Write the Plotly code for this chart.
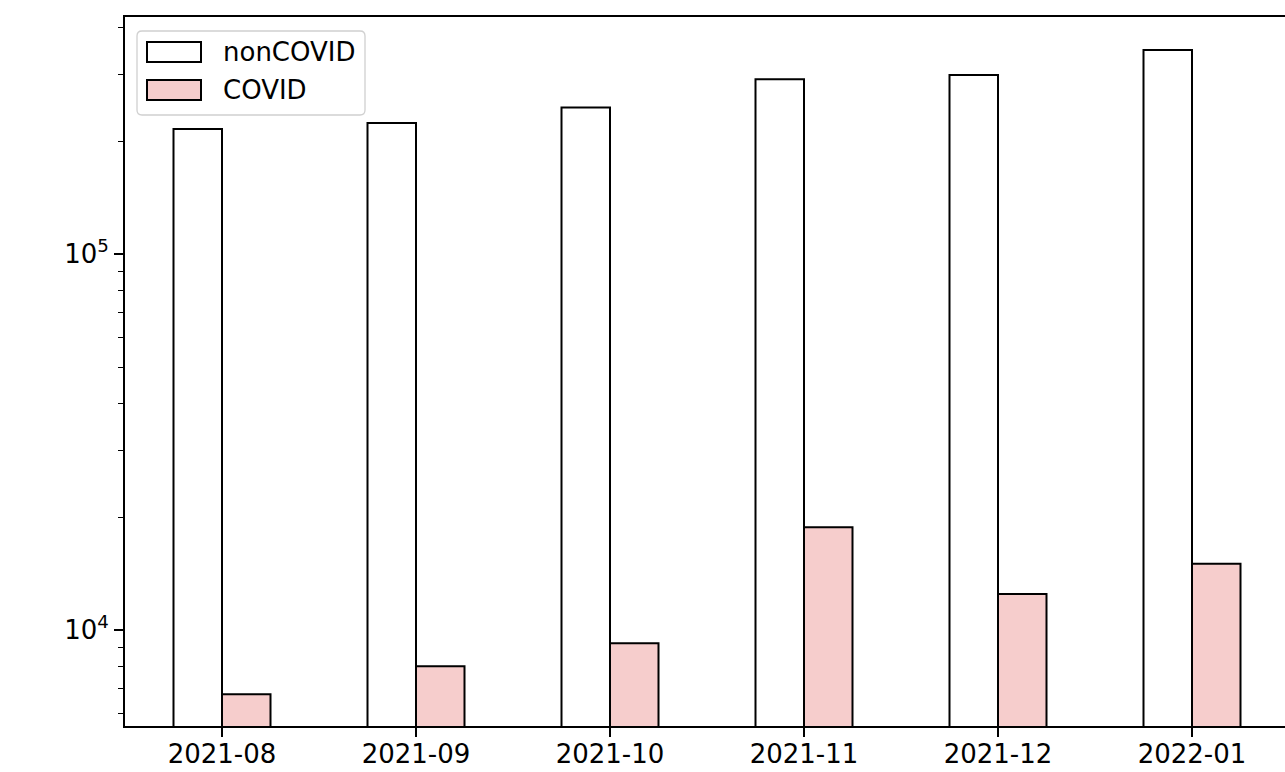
import plotly.graph_objects as go

# Monthly counts (log scale)
months = ["2021-08", "2021-09", "2021-10", "2021-11", "2021-12", "2022-01"]
non_covid = [215400, 223500, 245500, 292100, 299900, 349400]
covid = [6760, 8025, 9236, 18790, 12490, 15030]

series_names = ["nonCOVID", "COVID"]
fill_colors = ["#ffffff", "#f6cdcc"]

W, H = 1285, 772
ML, MR, MT, MB = 125, 0, 17, 46
PW, PH = W - ML - MR, H - MT - MB
FONT = "DejaVu Sans, Verdana, sans-serif"
FS = 26

fig = go.Figure()
for name, vals, col in zip(series_names, [non_covid, covid], fill_colors):
    fig.add_trace(go.Bar(
        x=months, y=vals, name=name,
        marker=dict(color=col, line=dict(color="black", width=2)),
        showlegend=False,
    ))

minor_vals = [m * 10 ** k for k in (3, 4, 5) for m in range(2, 10)]

fig.update_layout(
    width=W, height=H,
    margin=dict(l=ML, r=MR, t=MT, b=MB),
    paper_bgcolor="white", plot_bgcolor="white",
    barmode="group", bargap=0.5, bargroupgap=0,
    font=dict(family=FONT, size=FS, color="black"),
    xaxis=dict(
        type="category", automargin=False,
        range=[-0.5, 5.5 - 4 / 194],
        showline=True, linecolor="black", linewidth=1.8, mirror=True,
        ticks="outside", ticklen=9, tickwidth=1.6, tickcolor="black",
        ticklabelstandoff=-5,
        showgrid=False, zeroline=False,
        tickfont=dict(family=FONT, size=FS),
    ),
    yaxis=dict(
        type="log", range=[3.7455, 5.631], automargin=False,
        showline=True, linecolor="black", linewidth=1.8, mirror=False,
        tickmode="array", tickvals=[1e4, 1e5],
        ticktext=["10<sup>4</sup>", "10<sup>5</sup>"],
        ticks="outside", ticklen=9, tickwidth=1.6, tickcolor="black",
        minor=dict(tickmode="array", tickvals=minor_vals, ticks="outside",
                   ticklen=5, tickwidth=1.3, tickcolor="black", showgrid=False),
        showgrid=False, zeroline=False,
        tickfont=dict(family=FONT, size=FS),
    ),
)


def px_x(p):
    return (p - ML) / PW


def px_y(p):
    return (H - MB - p) / PH


# Legend frame with rounded corners
x0, x1, y0, y1, r = 137, 365, 31, 115, 5
rx, ry = r / PW, r / PH
X0, X1, Y0, Y1 = px_x(x0), px_x(x1), px_y(y1), px_y(y0)
path = (
    f"M {X0 + rx},{Y0} L {X1 - rx},{Y0} Q {X1},{Y0} {X1},{Y0 + ry} "
    f"L {X1},{Y1 - ry} Q {X1},{Y1} {X1 - rx},{Y1} "
    f"L {X0 + rx},{Y1} Q {X0},{Y1} {X0},{Y1 - ry} "
    f"L {X0},{Y0 + ry} Q {X0},{Y0} {X0 + rx},{Y0} Z"
)
fig.add_shape(type="path", path=path, xref="paper", yref="paper",
              fillcolor="rgba(255,255,255,0.8)",
              line=dict(color="#d0d0d0", width=1.3), layer="above")

rows = [(42, 62), (80, 100)]
for (ya, yb), name, col in zip(rows, series_names, fill_colors):
    fig.add_shape(type="rect", xref="paper", yref="paper",
                  x0=px_x(147), x1=px_x(201), y0=px_y(yb), y1=px_y(ya),
                  fillcolor=col, line=dict(color="black", width=2),
                  layer="above")
    fig.add_annotation(text=name, xref="paper", yref="paper",
                       x=px_x(221), y=px_y((ya + yb) / 2),
                       xanchor="left", yanchor="middle", showarrow=False,
                       font=dict(family=FONT, size=FS, color="black"))

fig.write_html("out.html")
